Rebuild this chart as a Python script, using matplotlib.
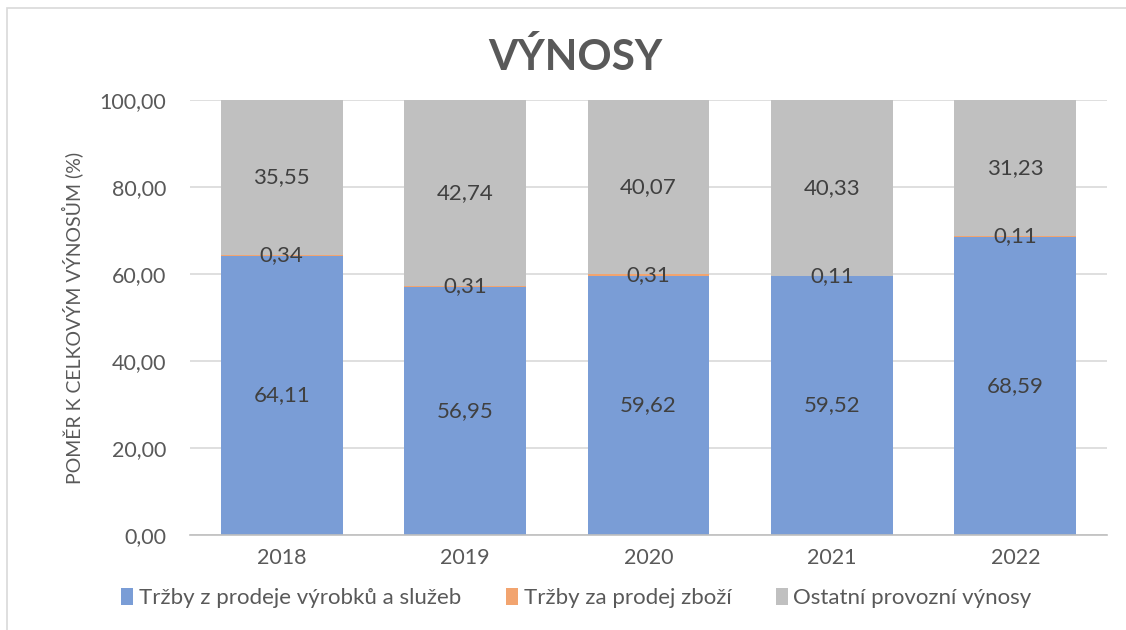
import matplotlib.pyplot as plt
from matplotlib.patches import Rectangle

plt.rcParams['font.family'] = ['Lato', 'DejaVu Sans']

years = ["2018", "2019", "2020", "2021", "2022"]
trzby_vyrobky = [64.11, 56.95, 59.62, 59.52, 68.59]
trzby_zbozi = [0.34, 0.31, 0.31, 0.11, 0.11]
ostatni = [35.55, 42.74, 40.07, 40.33, 31.23]
series_names = ["Tržby z prodeje výrobků a služeb", "Tržby za prodej zboží", "Ostatní provozní výnosy"]
colors = ["#7A9DD6", "#F2A46F", "#C0C0C0"]

def fmt(v):
    return f"{v:.2f}".replace(".", ",")

fig = plt.figure(figsize=(11.26, 6.3), dpi=100)
# chart frame (cropped screenshot of an Excel chart)
fig.patches.append(Rectangle((7 / 1126, -0.1), 1.2, 1 - 8 / 630 + 0.1, transform=fig.transFigure,
                             fill=False, edgecolor="#D9D9D9", linewidth=1.2))

ax = fig.add_axes([190 / 1126, 1 - 535 / 630, 917 / 1126, 435 / 630])
x = list(range(len(years)))
width = 0.665
bottom = [0.0] * len(years)
for vals, name, c in zip([trzby_vyrobky, trzby_zbozi, ostatni], series_names, colors):
    ax.bar(x, vals, width, bottom=bottom, color=c, label=name, zorder=2)
    for i, v in enumerate(vals):
        ax.text(x[i], bottom[i] + v / 2, fmt(v), ha="center", va="center",
                fontsize=16, color="#404040", zorder=3)
    bottom = [b + v for b, v in zip(bottom, vals)]

ax.set_xlim(-0.5, len(years) - 0.5)
ax.set_ylim(0, 100)
ax.set_yticks([0, 20, 40, 60, 80, 100])
ax.set_yticklabels([fmt(t) for t in [0, 20, 40, 60, 80, 100]])
ax.set_xticks(x)
ax.set_xticklabels(years)
ax.tick_params(axis="both", length=0, labelsize=15.5, colors="#595959")
ax.tick_params(axis="y", pad=17)
ax.tick_params(axis="x", pad=9)
ax.grid(axis="y", color="#D9D9D9", linewidth=1.2, zorder=0)
for s in ["top", "right", "left"]:
    ax.spines[s].set_visible(False)
ax.spines["bottom"].set_color("#BFBFBF")
ax.spines["bottom"].set_linewidth(1.2)
ax.spines["bottom"].set_zorder(4)

ax.set_ylabel("POMĚR K CELKOVÝM VÝNOSŮM (%)", fontsize=14, color="#595959", labelpad=12)
fig.text(0.511, 1 - 58 / 630, "VÝNOSY", ha="center", va="center", fontsize=30.5,
         fontweight="bold", color="#595959")

fig.legend(loc="center", bbox_to_anchor=(0.512, 1 - 598 / 630), ncol=3, frameon=False,
           fontsize=16, handlelength=0.55, handleheight=0.8, handletextpad=0.25,
           columnspacing=2.0, labelcolor="#595959")

fig.savefig("out.png", dpi=100)
